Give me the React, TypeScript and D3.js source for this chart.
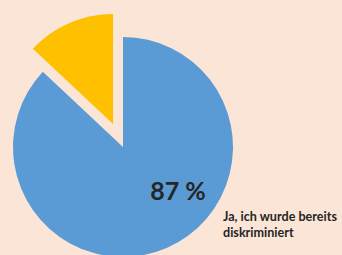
import React from "react";
import * as d3 from "d3";

// Share of respondents reporting discrimination, exploded pie.
const categories = ["Ja, ich wurde bereits diskriminiert", "Nein"];
const values = [87, 13];
const colors = ["#5B9BD5", "#FFC000"];
const labelLines = ["Ja, ich wurde bereits", "diskriminiert"];

const W = 342;
const H = 255;

export default function App() {
  const cx = 123;
  const cy = 147;
  const r = 110;
  const explode = 25;

  const pie = d3.pie<number>().sort(null).value((d) => d);
  const arcs = pie(values);
  const arc = d3.arc<d3.PieArcDatum<number>>().innerRadius(0).outerRadius(r);

  const font = "Lato, 'Open Sans', sans-serif";

  return (
    <div style={{ position: "fixed", left: 0, top: 0, width: W, height: H, overflow: "hidden" }}>
      <svg width={W} height={H} style={{ display: "block" }}>
        <rect width={W} height={H} fill="#FBE5D6" />
        <g transform={`translate(${cx},${cy})`}>
          {arcs.map((a, i) => {
            const mid = (a.startAngle + a.endAngle) / 2;
            const off = i === 1 ? explode : 0;
            const dx = Math.sin(mid) * off;
            const dy = -Math.cos(mid) * off;
            return (
              <path
                key={categories[i]}
                d={arc(a) || ""}
                fill={colors[i]}
                transform={`translate(${dx},${dy})`}
              />
            );
          })}
        </g>
        <text
          x={178}
          y={200}
          textAnchor="middle"
          fontFamily={font}
          fontWeight="bold"
          fontSize={25}
          fill="#262626"
        >
          {`${values[0]} %`}
        </text>
        <text x={223} y={221} fontFamily={font} fontWeight="bold" fontSize={12.6} fill="#262626">
          {labelLines.map((t, i) => (
            <tspan key={t} x={223} dy={i === 0 ? 0 : 16}>
              {t}
            </tspan>
          ))}
        </text>
      </svg>
    </div>
  );
}
